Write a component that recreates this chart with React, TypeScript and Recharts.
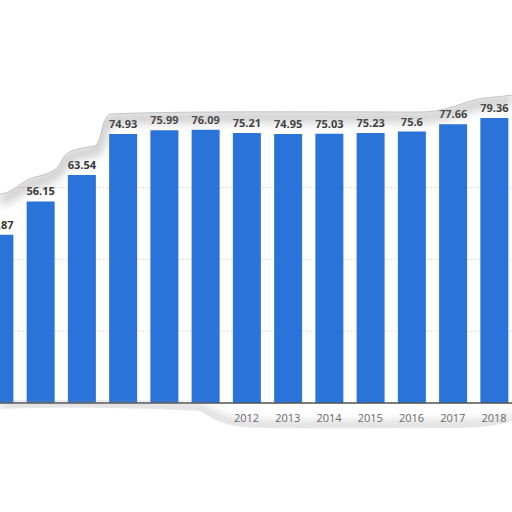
import { BarChart, Bar, XAxis, YAxis, CartesianGrid, LabelList } from "recharts"

// years covered by the (cropped) chart
const years = ["2006", "2007", "2008", "2009", "2010", "2011", "2012", "2013", "2014", "2015", "2016", "2017", "2018"]
// share values per year
const values = [46.87, 56.15, 63.54, 74.93, 75.99, 76.09, 75.21, 74.95, 75.03, 75.23, 75.6, 77.66, 79.36]
// only these year labels survive the torn edge
const visibleYears = ["2012", "2013", "2014", "2015", "2016", "2017", "2018"]
const gridTicks = [0, 20, 40, 60]

const data = years.map((year, i) => ({ year, value: values[i] }))

const FONT = "'Open Sans', 'DejaVu Sans', sans-serif"

// torn paper edges drawn over the chart (pure decoration)
const topTear =
  "M0,194 C12,194 22,180 35,177 C50,174 58,170 62,160 C66,150 80,148 95,146 C103,140 100,120 110,114 C180,111 300,112 420,112 C450,112 465,100 485,98 C495,97 505,96 512,95"
const bottomTear =
  "M0,409 C80,406 160,409 200,411 C214,419 224,428 262,428 C330,429 420,428 460,428 C490,427 500,425 512,421"

function TornEdges() {
  return (
    <svg
      width={512}
      height={512}
      style={{ position: "absolute", left: 0, top: 0, pointerEvents: "none" }}
    >
      <defs>
        <filter id="blur" x="-20%" y="-20%" width="140%" height="140%">
          <feGaussianBlur stdDeviation="5" />
        </filter>
      </defs>
      <path d={topTear} fill="none" stroke="#888" strokeWidth={10} opacity={0.45} filter="url(#blur)" transform="translate(0,5)" />
      <path d={topTear + " L512,0 L0,0 Z"} fill="#fff" />
      <path d={topTear} fill="none" stroke="#c4c4c4" strokeWidth={1} />
      <path d={bottomTear} fill="none" stroke="#888" strokeWidth={7} opacity={0.4} filter="url(#blur)" transform="translate(0,-3)" />
      <path d={bottomTear + " L512,512 L0,512 Z"} fill="#fff" />
    </svg>
  )
}

export default function App() {
  return (
    <div
      style={{
        position: "fixed",
        left: 0,
        top: 0,
        width: 512,
        height: 512,
        overflow: "hidden",
        background: "#fff",
      }}
    >
      <div style={{ position: "absolute", left: -32, top: 0 }}>
        <BarChart
          width={560}
          height={512}
          data={data}
          margin={{ top: 44, right: 13.4, left: 10.4, bottom: 79 }}
          barSize={28}
        >
          <CartesianGrid vertical={false} stroke="#d6d6d6" strokeDasharray="2 2" horizontalValues={gridTicks} />
          <YAxis hide domain={[0, 100]} ticks={gridTicks} />
          <XAxis
            dataKey="year"
            stroke="#555"
            strokeWidth={1.5}
            tickLine={false}
            tickMargin={5}
            tick={{ fill: "#666", fontSize: 11, fontFamily: FONT }}
            tickFormatter={(y: string) => (visibleYears.includes(y) ? y : "")}
            interval={0}
          />
          <Bar dataKey="value" fill="#2a73d9" isAnimationActive={false}>
            <LabelList
              dataKey="value"
              position="top"
              offset={6}
              fill="#333"
              fontSize={11}
              fontWeight="bold"
              fontFamily={FONT}
            />
          </Bar>
        </BarChart>
      </div>
      <TornEdges />
    </div>
  )
}
